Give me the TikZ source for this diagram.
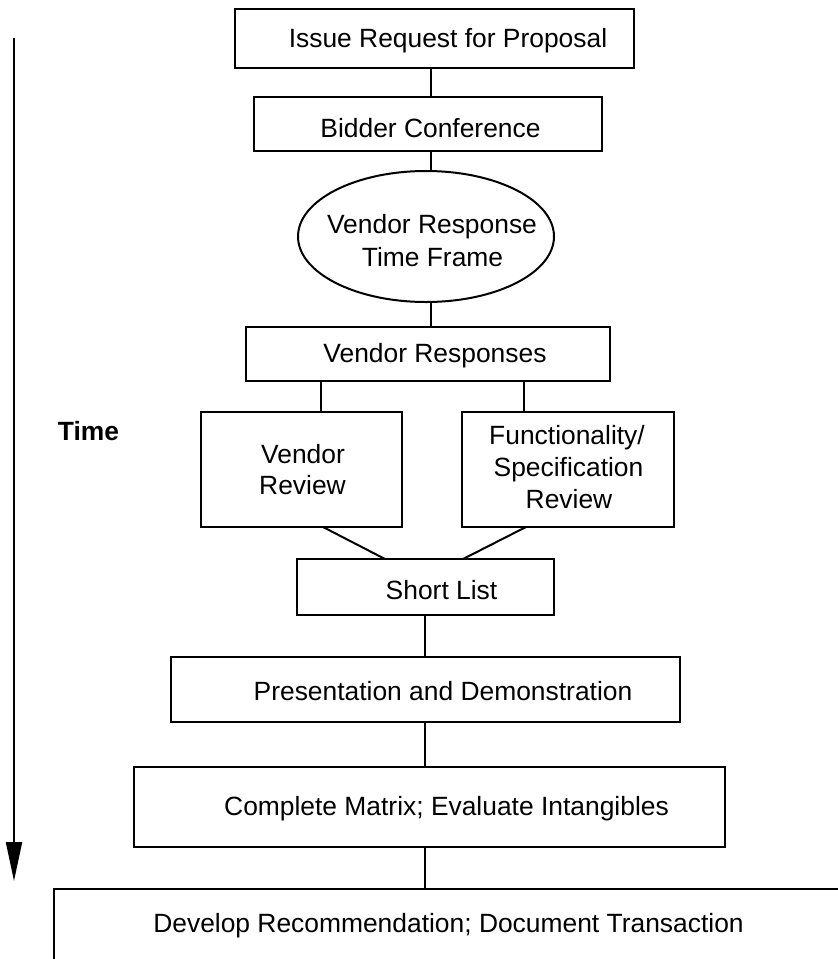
\documentclass[tikz,border=0pt]{standalone}
\usepackage{fontspec}
\setmainfont{Liberation Sans}
\usetikzlibrary{shapes.geometric,arrows.meta}
\begin{document}
\begin{tikzpicture}[x=1pt,y=-1pt,
  box/.style={draw,line width=2pt,inner sep=0pt,rectangle},
  oval/.style={draw,line width=2pt,inner sep=0pt,ellipse},
  txt/.style={font=\fontsize{26.4}{31.7}\selectfont,inner sep=0pt,anchor=base},
  conn/.style={line width=2pt}]
\useasboundingbox (0,0) rectangle (838,959);
\clip (0,0) rectangle (838,959);
% boxes
\node[box,minimum width=399pt,minimum height=59pt] (b1) at (434.5,38.5) {};
\node[box,minimum width=348pt,minimum height=54pt] (b2) at (428,124) {};
\node[oval,minimum width=256pt,minimum height=131pt] (ell) at (426,236.5) {};
\node[box,minimum width=364pt,minimum height=54pt] (b4) at (428,354) {};
\node[box,minimum width=201pt,minimum height=115pt] (b5) at (301.5,469.5) {};
\node[box,minimum width=212pt,minimum height=115pt] (b6) at (568,469.5) {};
\node[box,minimum width=257pt,minimum height=56pt] (b7) at (425.5,587) {};
\node[box,minimum width=509pt,minimum height=65pt] (b8) at (425.5,689.5) {};
\node[box,minimum width=591pt,minimum height=80pt] (b9) at (429.5,807) {};
\node[box,minimum width=846pt,minimum height=130pt] (b10) at (477,954) {};
% texts
\node[txt] (t1) at (448,47) {Issue Request for Proposal};
\node[txt] (t2) at (430.5,137) {Bidder Conference};
\node[txt] (t3a) at (432,233) {Vendor Response};
\node[txt] (t3b) at (432.5,266) {Time Frame};
\node[txt] (t4) at (435,362) {Vendor Responses};
\node[txt] (t5a) at (303,463) {Vendor};
\node[txt] (t5b) at (302.5,494) {Review};
\node[txt] (t6a) at (567,444) {Functionality/};
\node[txt] (t6b) at (568.5,476) {Specification};
\node[txt] (t6c) at (569,508) {Review};
\node[txt] (t7) at (441.5,599) {Short List};
\node[txt] (t8) at (443,700) {Presentation and Demonstration};
\node[txt] (t9) at (446.5,815) {Complete Matrix; Evaluate Intangibles};
\node[txt] (t10) at (448.5,932) {Develop Recommendation; Document Transaction};
\node[txt,font=\fontsize{26.4}{31.7}\selectfont\bfseries] (time) at (88.5,440) {Time};
% connector x positions
\coordinate (xa) at (431,0);
\coordinate (xb) at (321,0);
\coordinate (xc) at (524,0);
\coordinate (xd) at (425,0);
\coordinate (p5) at (323,527);
\coordinate (p6) at (526,527);
\coordinate (q5) at (385,559);
\coordinate (q6) at (463,559);
% connectors
\draw[conn] (b1.south -| xa) -- (b2.north -| xa);
\draw[conn] (b2.south -| xa) -- (ell.north -| xa);
\draw[conn] (ell.south -| xa) -- (b4.north -| xa);
\draw[conn] (b4.south -| xb) -- (b5.north -| xb);
\draw[conn] (b4.south -| xc) -- (b6.north -| xc);
\draw[conn] (p5) -- (q5);
\draw[conn] (p6) -- (q6);
\draw[conn] (b7.south -| xd) -- (b8.north -| xd);
\draw[conn] (b8.south -| xd) -- (b9.north -| xd);
\draw[conn] (b9.south -| xd) -- (b10.north -| xd);
% time arrow
\coordinate (ttop) at (14,38);
\coordinate (tbot) at (14,881);
\draw[line width=2pt,-{Triangle[length=39pt,width=16pt]}] (ttop) -- (tbot);
\end{tikzpicture}
\end{document}
